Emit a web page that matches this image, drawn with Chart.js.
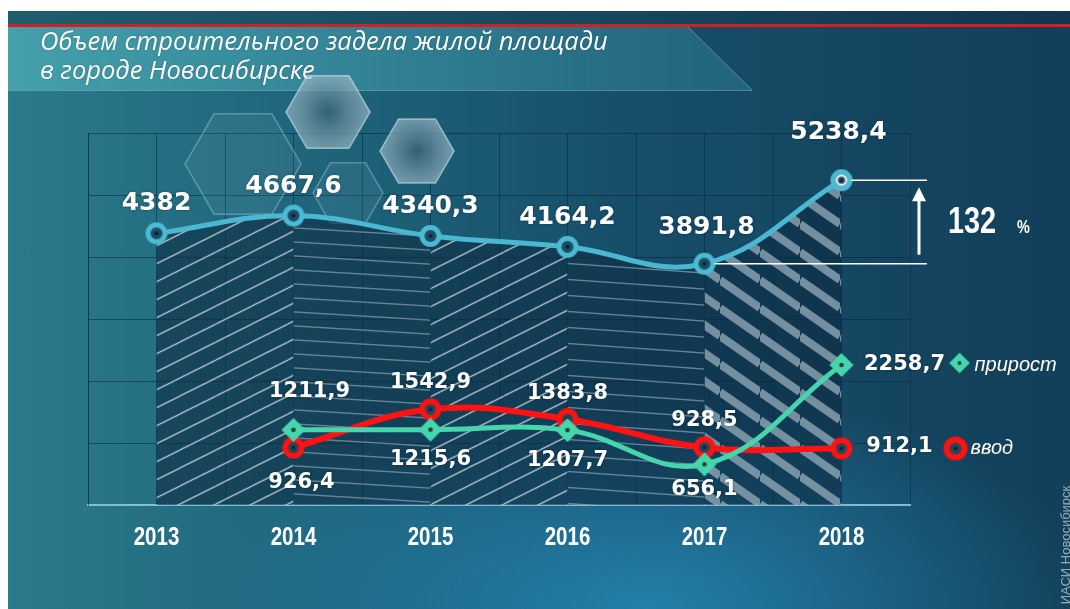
<!DOCTYPE html>
<html>
<head>
<meta charset="utf-8">
<script src="https://cdn.jsdelivr.net/npm/chart.js@4.4.1/dist/chart.umd.min.js"></script>
<style>
  html, body { margin: 0; padding: 0; background: #fff; }
  #bg {
    position: absolute; left: 8px; top: 11px; width: 1062px; height: 598px;
    background:
      radial-gradient(ellipse 42% 38% at 60% 100%, rgba(38,140,185,0.8), rgba(38,140,185,0) 100%),
      linear-gradient(90deg, #2a7b8b 0%, #1f657c 28%, #174e6a 58%, #123f59 100%);
  }
  #wrap { position: absolute; left: 0; top: 0; width: 1070px; height: 609px; }
</style>
</head>
<body>
<div id="bg"></div>
<div id="wrap"><canvas id="myChart" width="1070" height="609"></canvas></div>
<script>
// data
var years = ['2013', '2014', '2015', '2016', '2017', '2018'];
var zadel = [4382, 4667.6, 4340.3, 4164.2, 3891.8, 5238.4];
var vvod = [null, 926.4, 1542.9, 1383.8, 928.5, 912.1];
var prirost = [null, 1211.9, 1215.6, 1207.7, 656.1, 2258.7];
var titleLines = ['Объем строительного задела жилой площади', 'в городе Новосибирске'];
var growthText = '132';
var legendNames = { vvod: 'ввод', prirost: 'прирост' };

// label offsets from their points (px)
var zadelOff = [[0, -30], [0, -29], [0, -29], [0, -29], [2, -36], [-3, -48]];
var vvodOff = [null, [8, 35], [0, -27], [0, -26], [0, -27], [58, -2]];
var prirostOff = [null, [16, -38], [0, 30], [0, 30], [0, 25], [63, 0]];

function pts(arr) {
  var out = [];
  arr.forEach(function (v, i) { if (v !== null) out.push({ x: i, y: v }); });
  return out;
}
function fmt(v) { return String(v).replace('.', ','); }

var ctx = document.getElementById('myChart').getContext('2d');

function hatch(w, h, lw, color, dir) {
  var c = document.createElement('canvas');
  c.width = w; c.height = h;
  var g = c.getContext('2d');
  g.fillStyle = 'rgba(13,44,66,0.6)';
  g.fillRect(0, 0, w, h);
  g.strokeStyle = color;
  g.lineWidth = lw;
  for (var k = -1; k <= 1; k++) {
    g.beginPath();
    if (dir > 0) { g.moveTo(0, h + k * h); g.lineTo(w, k * h); }
    else { g.moveTo(0, k * h); g.lineTo(w, h + k * h); }
    g.stroke();
  }
  return ctx.createPattern(c, 'repeat');
}
var patterns = [
  hatch(36, 18, 1.6, 'rgba(195,208,214,0.75)', 1),
  hatch(230, 14, 1.3, 'rgba(170,190,200,0.55)', -1),
  hatch(36, 18, 1.6, 'rgba(195,208,214,0.75)', 1),
  hatch(230, 16, 1.3, 'rgba(170,190,200,0.55)', -1),
  hatch(40, 28, 8, 'rgba(160,182,194,0.7)', -1)
];

function ring(r, lw, stroke, fill, inner) {
  var s = 2 * r + 4, c = document.createElement('canvas');
  c.width = c.height = s;
  var g = c.getContext('2d');
  g.beginPath(); g.arc(s / 2, s / 2, r - lw / 2, 0, Math.PI * 2);
  g.fillStyle = fill; g.fill();
  g.lineWidth = lw; g.strokeStyle = stroke; g.stroke();
  if (inner) {
    g.beginPath(); g.arc(s / 2, s / 2, r - lw - 1.2, 0, Math.PI * 2);
    g.lineWidth = 2; g.strokeStyle = inner; g.stroke();
  }
  g.beginPath(); g.arc(s / 2, s / 2, 2, 0, Math.PI * 2);
  g.fillStyle = 'rgba(10,30,45,0.9)'; g.fill();
  return c;
}
function diamond(r) {
  var s = 2 * r + 4, c = document.createElement('canvas');
  c.width = c.height = s;
  var g = c.getContext('2d'), m = s / 2;
  g.beginPath(); g.moveTo(m, m - r); g.lineTo(m + r, m); g.lineTo(m, m + r); g.lineTo(m - r, m); g.closePath();
  g.fillStyle = '#46d6ae'; g.fill();
  g.beginPath(); g.arc(m, m, 2.3, 0, Math.PI * 2);
  g.fillStyle = '#22402f'; g.fill();
  return c;
}
var blueDot = ring(11, 5, '#4cbad3', '#1d4d66');
var blueLast = ring(11, 5, '#4cbad3', '#2a5a70', '#ffffff');
var redDot = ring(11, 5.5, '#ff1212', '#2a4659');
var greenDot = diamond(12);

function hexPath(g, cx, cy, r) {
  g.beginPath();
  for (var k = 0; k < 6; k++) {
    var a = Math.PI / 3 * k;
    g.lineTo(cx + r * Math.cos(a), cy + r * Math.sin(a));
  }
  g.closePath();
}
function txt(g, s, x, y, font, color, align, sx) {
  g.save();
  g.font = font;
  g.fillStyle = color;
  g.textAlign = align || 'center';
  g.textBaseline = 'middle';
  g.translate(x, y);
  g.scale(sx || 1, 1);
  g.fillText(s, 0, 0);
  g.restore();
}

var deco = {
  id: 'deco',
  beforeDraw: function (chart) {
    var g = chart.ctx;
    g.save();
    var top = g.createLinearGradient(8, 0, 1070, 0);
    top.addColorStop(0, '#1f5d6d'); top.addColorStop(1, '#113650');
    g.fillStyle = top; g.fillRect(8, 11, 1062, 14);
    g.fillStyle = '#d21f26'; g.fillRect(8, 24, 1062, 3);
    var band = g.createLinearGradient(8, 0, 760, 0);
    band.addColorStop(0, 'rgba(75,170,180,0.8)');
    band.addColorStop(1, 'rgba(45,125,145,0.5)');
    g.beginPath(); g.moveTo(8, 27); g.lineTo(688, 27); g.lineTo(752, 90); g.lineTo(8, 90); g.closePath();
    g.fillStyle = band; g.fill();
    g.strokeStyle = 'rgba(150,210,220,0.45)'; g.lineWidth = 1;
    g.beginPath(); g.moveTo(8, 90.5); g.lineTo(752, 90.5); g.stroke();
    g.beginPath(); g.moveTo(688, 27); g.lineTo(752, 90); g.stroke();
    g.shadowColor = 'rgba(0,0,0,0.25)'; g.shadowBlur = 2;
    txt(g, titleLines[0], 40, 43, 'italic 25.5px "Open Sans"', '#ffffff', 'left');
    txt(g, titleLines[1], 40, 72, 'italic 25.5px "Open Sans"', '#ffffff', 'left');
    g.restore();
  },
  beforeDatasetsDraw: function (chart) {
    var g = chart.ctx;
    g.save();
    hexPath(g, 243, 164, 58);
    g.fillStyle = 'rgba(130,180,195,0.12)'; g.fill();
    g.strokeStyle = 'rgba(170,210,220,0.4)'; g.lineWidth = 1.5; g.stroke();
    hexPath(g, 348, 193, 35);
    g.fillStyle = 'rgba(130,180,195,0.12)'; g.fill();
    g.strokeStyle = 'rgba(170,210,220,0.4)'; g.stroke();
    [[328, 112, 42], [417, 151, 37]].forEach(function (h) {
      var rg = g.createRadialGradient(h[0], h[1], 2, h[0], h[1], h[2]);
      rg.addColorStop(0, 'rgba(60,100,120,0.75)');
      rg.addColorStop(1, 'rgba(175,198,208,0.6)');
      hexPath(g, h[0], h[1], h[2]);
      g.fillStyle = rg; g.fill();
      g.strokeStyle = 'rgba(210,230,235,0.6)'; g.lineWidth = 1.5; g.stroke();
    });
    g.restore();
  },
  afterDatasetsDraw: function (chart) {
    var g = chart.ctx, xs = chart.scales.x, ys = chart.scales.y, area = chart.chartArea;
    g.save();
    // growth annotation
    var yHi = ys.getPixelForValue(zadel[5]), yLo = ys.getPixelForValue(zadel[4]);
    var xEnd = area.right + 17;
    g.strokeStyle = '#ffffff'; g.lineWidth = 1.5;
    g.beginPath();
    g.moveTo(xs.getPixelForValue(5) + 10, yHi); g.lineTo(xEnd, yHi);
    g.moveTo(xs.getPixelForValue(4) + 10, yLo); g.lineTo(xEnd, yLo);
    g.stroke();
    var ax = area.right + 9;
    g.lineWidth = 3;
    g.beginPath(); g.moveTo(ax, yLo - 9); g.lineTo(ax, yHi + 16); g.stroke();
    g.fillStyle = '#ffffff';
    g.beginPath(); g.moveTo(ax, yHi + 7); g.lineTo(ax - 7, yHi + 21); g.lineTo(ax + 7, yHi + 21); g.closePath(); g.fill();
    var my = (yHi + yLo) / 2;
    txt(g, growthText, area.right + 38, my + 1, 'bold 37px "Liberation Sans"', '#ffffff', 'left', 0.78);
    txt(g, '%', area.right + 107, my + 6, 'bold 18px "Liberation Sans"', '#ffffff', 'left', 0.8);

    g.shadowColor = 'rgba(0,0,0,0.35)'; g.shadowBlur = 3;
    // value labels
    zadel.forEach(function (v, i) {
      txt(g, fmt(v), xs.getPixelForValue(i) + zadelOff[i][0], ys.getPixelForValue(v) + zadelOff[i][1],
        'bold 25px "DejaVu Sans"', '#ffffff');
    });
    vvod.forEach(function (v, i) {
      if (v === null) return;
      txt(g, fmt(v), xs.getPixelForValue(i) + vvodOff[i][0], ys.getPixelForValue(v) + vvodOff[i][1],
        'bold 21px "DejaVu Sans"', '#ffffff');
    });
    prirost.forEach(function (v, i) {
      if (v === null) return;
      txt(g, fmt(v), xs.getPixelForValue(i) + prirostOff[i][0], ys.getPixelForValue(v) + prirostOff[i][1],
        'bold 21px "DejaVu Sans"', '#ffffff');
    });
    // legend next to the last points
    var lx = xs.getPixelForValue(5);
    var gy = ys.getPixelForValue(prirost[5]), ry = ys.getPixelForValue(vvod[5]);
    g.shadowBlur = 0;
    g.drawImage(greenDot, lx + 119 - greenDot.width / 2 + 1, gy - greenDot.height / 2, greenDot.width - 4, greenDot.height - 4);
    var legRed = ring(12, 6, '#ff1212', '#2a4659');
    g.drawImage(legRed, lx + 114 - legRed.width / 2, ry - legRed.height / 2);
    txt(g, legendNames.prirost, lx + 133, gy, 'italic 20px "Liberation Sans"', '#ffffff', 'left');
    txt(g, legendNames.vvod, lx + 129, ry, 'italic 20px "Liberation Sans"', '#ffffff', 'left');
    // year labels
    years.forEach(function (y, i) {
      txt(g, y, xs.getPixelForValue(i), area.bottom + 33, 'bold 25px "Liberation Sans"', '#ffffff', 'center', 0.82);
    });
    // source mark
    g.translate(1066, 545);
    g.rotate(-Math.PI / 2);
    txt(g, 'ИАСИ Новосибирск', 0, 0, '13px "Liberation Sans"', 'rgba(255,255,255,0.55)');
    g.restore();
  }
};

var myChart = new Chart(ctx, {
  type: 'line',
  data: {
    datasets: [{
      label: 'задел',
      data: pts(zadel),
      borderColor: '#4ab8d1',
      borderWidth: 5,
      tension: 0.4,
      fill: 'origin',
      backgroundColor: patterns[0],
      segment: { backgroundColor: function (c) { return patterns[c.p0DataIndex]; } },
      pointStyle: zadel.map(function (v, i) { return i === zadel.length - 1 ? blueLast : blueDot; }),
      pointRadius: 11,
      order: 3
    }, {
      label: legendNames.vvod,
      data: pts(vvod),
      borderColor: '#ff1212',
      borderWidth: 6,
      tension: 0.4,
      fill: false,
      pointStyle: redDot,
      pointRadius: 11,
      order: 2
    }, {
      label: legendNames.prirost,
      data: pts(prirost),
      borderColor: '#46d6ae',
      borderWidth: 5,
      tension: 0.4,
      fill: false,
      pointStyle: greenDot,
      pointRadius: 12,
      order: 1
    }]
  },
  options: {
    responsive: false,
    animation: false,
    devicePixelRatio: 1,
    layout: { padding: { left: 88, right: 160, top: 133, bottom: 104 } },
    plugins: { legend: { display: false }, tooltip: { enabled: false } },
    scales: {
      x: {
        type: 'linear', min: -0.5, max: 5.5,
        ticks: { display: false, stepSize: 0.5 },
        grid: { color: 'rgba(10,38,58,0.55)', drawTicks: false },
        border: { color: 'rgba(140,200,222,0.9)', width: 2 }
      },
      y: {
        min: 0, max: 6000,
        ticks: { display: false, stepSize: 1000 },
        grid: { color: 'rgba(10,38,58,0.55)', drawTicks: false },
        border: { color: 'rgba(10,38,58,0.55)', width: 1 }
      }
    }
  },
  plugins: [deco]
});
</script>
</body>
</html>
